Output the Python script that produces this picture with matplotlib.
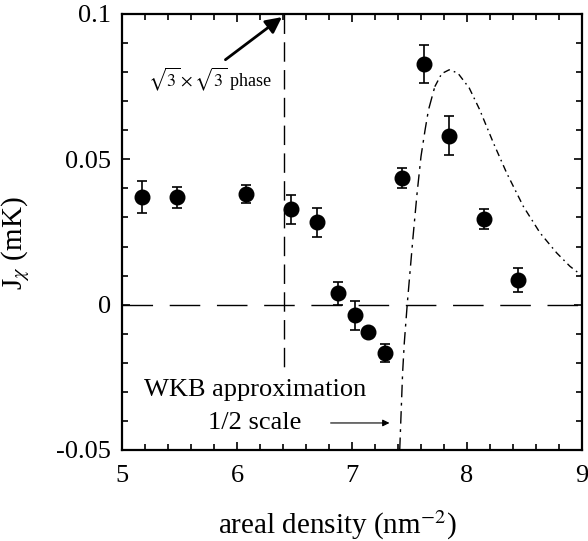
import matplotlib
matplotlib.use("Agg")
import matplotlib.pyplot as plt
from matplotlib.ticker import MultipleLocator, FixedLocator, FixedFormatter

plt.rcParams['font.family'] = ['Liberation Serif', 'DejaVu Serif']
plt.rcParams['mathtext.fontset'] = 'stix'
plt.rcParams['axes.unicode_minus'] = False

# Measured data
density = [5.177, 5.475, 6.078, 6.466, 6.693, 6.878, 7.029, 7.142, 7.290, 7.432, 7.629, 7.846, 8.148, 8.441]
j_chi = [0.0370, 0.0369, 0.0381, 0.0329, 0.0284, 0.0039, -0.0036, -0.0095, -0.0166, 0.0436, 0.0828, 0.0581, 0.0296, 0.0084]
j_err = [0.0055, 0.0035, 0.0030, 0.0050, 0.0050, 0.0040, 0.0050, 0.0015, 0.0032, 0.0035, 0.0065, 0.0067, 0.0034, 0.0042]

# WKB approximation curve (1/2 scale)
wkb_x_rise = [7.415, 7.44, 7.455, 7.48, 7.53, 7.565, 7.60, 7.635, 7.665, 7.72]
wkb_y_rise = [-0.05, -0.0235, -0.013, 0.0, 0.023, 0.038, 0.051, 0.060, 0.067, 0.075]
wkb_x_fall = [7.72, 7.78, 7.845, 7.92, 8.02, 8.11, 8.23, 8.345, 8.49, 8.635, 8.78, 8.895, 8.97, 9.0]
wkb_y_fall = [0.075, 0.0795, 0.0808, 0.0797, 0.0745, 0.0671, 0.0556, 0.0453, 0.0338, 0.0247, 0.0178, 0.0132, 0.0109, 0.0097]

phase_boundary = 6.41
xticks = [5, 6, 7, 8, 9]
xtick_labels = ['5', '6', '7', '8', '9']
yticks = [-0.05, 0, 0.05, 0.1]
ytick_labels = ['-0.05', '0', '0.05', '0.1']

fig = plt.figure(figsize=(5.88, 5.41), dpi=100)
ax = fig.add_axes([122/588, 1-450/541, 460/588, 436/541])

ax.set_xlim(5, 9)
ax.set_ylim(-0.05, 0.1)

# zero line
ax.plot([5, 9], [0, 0], color='black', lw=1.0, dashes=(22, 12))
# vertical phase boundary
ax.plot([phase_boundary, phase_boundary], [0.1, -0.0235], color='black', lw=1.0, dashes=(14, 6))

# WKB curve
ax.plot(wkb_x_rise, wkb_y_rise, color='black', lw=1.0, dashes=(9, 4, 2, 4))
ax.plot(wkb_x_fall, wkb_y_fall, color='black', lw=1.0, dashes=(5, 3, 1.2, 3))

# data
ax.errorbar(density, j_chi, yerr=j_err, fmt='o', color='black', ms=10.5,
            capsize=3.8, elinewidth=1.2, capthick=1.2, zorder=5)

# annotations
ax.annotate('', xy=(6.41, 0.0995), xytext=(5.88, 0.0837),
            arrowprops=dict(arrowstyle='-|>', color='black', lw=2.0, mutation_scale=24))
ax.text(5.226, 0.0774, r'$\sqrt{3}\times\sqrt{3}$ phase', fontsize=13, va='center', ha='left')
ax.text(6.155, -0.0292, 'WKB approximation', fontsize=19, ha='center', va='center')
ax.text(6.155, -0.0407, '1/2 scale', fontsize=19, ha='center', va='center')
ax.annotate('', xy=(7.35, -0.0407), xytext=(6.79, -0.0407),
            arrowprops=dict(arrowstyle='-|>', color='black', lw=0.8, mutation_scale=10))

# ticks
ax.xaxis.set_major_locator(FixedLocator(xticks))
ax.xaxis.set_major_formatter(FixedFormatter(xtick_labels))
ax.xaxis.set_minor_locator(MultipleLocator(0.2))
ax.yaxis.set_major_locator(FixedLocator(yticks))
ax.yaxis.set_major_formatter(FixedFormatter(ytick_labels))
ax.yaxis.set_minor_locator(MultipleLocator(0.01))
ax.tick_params(which='both', direction='in', top=True, right=True, width=1.2)
ax.tick_params(which='major', length=6)
ax.tick_params(which='minor', length=4)
ax.tick_params(axis='x', which='major', labelsize=19, pad=11)
ax.tick_params(axis='y', which='major', labelsize=19, pad=8)
for s in ax.spines.values():
    s.set_linewidth(1.6)

ax.set_xlabel(r'areal density (nm$^{-2}$)', fontsize=21)
ax.xaxis.set_label_coords(0.468, -0.135)
ax.set_ylabel(r'J$_{\chi}$ (mK)', fontsize=21)
ax.yaxis.set_label_coords(-0.195, 0.475)

fig.savefig('out.png', dpi=100)
